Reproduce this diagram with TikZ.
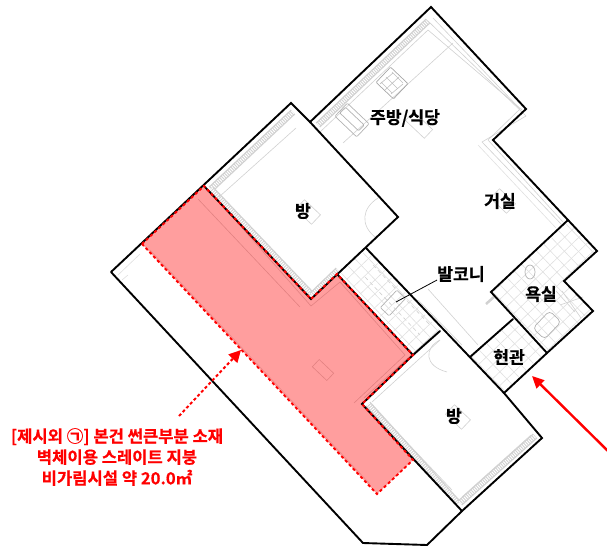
\documentclass[tikz,border=0pt]{standalone}
\usepackage{fontspec}
\setmainfont{Noto Sans CJK KR}[BoldFont={Noto Sans CJK KR Bold},BoldFeatures={FakeBold=0.6}]
\usetikzlibrary{arrows.meta}
\definecolor{planred}{RGB}{255,0,0}
\tikzset{
  x=1pt,y=-1pt,
  wall/.style={black,line width=1.9pt,line join=miter,line cap=round},
  faint/.style={black!18,line width=.6pt},
  fainter/.style={black!12,line width=.6pt},
  hatchband/.style={black!18,line width=6.5pt,line cap=butt,postaction={draw=white,line width=4pt,dash pattern=on 1pt off 1.2pt}},
  redfill/.style={fill=planred,fill opacity=.38,draw=none},
  reddash/.style={planred,line width=1.9pt,dash pattern=on 3pt off 2.6pt},
  roomlabel/.style={font=\bfseries\fontsize{17.2}{19}\selectfont,text=black,inner sep=1pt},
  redlabel/.style={font=\bfseries\fontsize{16.6}{21}\selectfont,text=planred,inner sep=0pt},
  tag/.style={draw=black!18,line width=.6pt,rotate=-43.5,minimum width=22pt,minimum height=13pt,inner sep=0pt},
  fixture/.style={draw=black!30,line width=.7pt,rotate=-43.5,rounded corners=1pt,inner sep=0pt},
}
% grid of lines: start x, y, step, count, half-length
\newcommand{\meshlines}[5]{%
  \foreach \k in {0,...,#4}{%
    \draw[fainter] ({#1+\k*#3*.69-#5*.72},{#2+\k*#3*.72+#5*.69}) -- ({#1+\k*#3*.69+#5*.72},{#2+\k*#3*.72-#5*.69});
    \draw[fainter] ({#1+\k*#3*.72-#5*.69},{#2-\k*#3*.69-#5*.72}) -- ({#1+\k*#3*.72+#5*.69},{#2-\k*#3*.69+#5*.72});
  }}
\begin{document}
\begin{tikzpicture}
\useasboundingbox (0,0) rectangle (607,546);
% ---------- faint floor plan layer
\begin{scope}
  \clip (340,272) -- (366,250) -- (440,331) -- (413,353) -- cycle;
  \meshlines{340}{272}{10}{12}{120}
\end{scope}
\begin{scope}
  \clip (493,292) -- (568,222) -- (595,251) -- (564,281) -- (591,311) -- (547,351) -- cycle;
  \meshlines{493}{292}{10}{13}{130}
\end{scope}
\begin{scope}
  \clip (472,357) -- (513,321) -- (545,353) -- (504,391) -- cycle;
  \meshlines{472}{357}{10}{8}{90}
\end{scope}
% wall hatching
\draw[hatchband] (318,125) -- (428,21);
\draw[hatchband] (293,112) -- (211,189);
\draw[hatchband] (211,189) -- (312,295);
\draw[hatchband] (312,295) -- (338,270);
\draw[hatchband] (368,404) -- (458,503);
\draw[hatchband] (460,503) -- (535,436);
% parallel wall lines
\draw[faint] (320,132) -- (428,30) -- (522,110);
\draw[faint] (428,21) -- (526,116) -- (482,142) -- (563,226);
\draw[faint] (433,18) -- (520,109) -- (488,140) -- (563,222);
\draw[faint] (343,143) -- (453,43);
\draw[fainter] (478,145) -- (556,228);
\draw[faint] (219,197) -- (296,128);
\draw[faint] (372,402) -- (440,340);
\draw[faint] (364,398) -- (430,338);
\draw[faint] (462,497) -- (531,435);
\draw[faint] (376,410) -- (452,490);
\draw[faint] (214,196) -- (311,306) -- (340,282) -- (405,355) -- (354,403);
\draw[faint] (198,199) -- (300,307);
\draw[fainter] (118,275) -- (140,254);
\draw[fainter] (122,280) -- (128,275);
\draw[fainter] (150,250) -- (370,484);
% door arcs
\draw[faint] (378,198) .. controls (362,208) and (360,225) .. (375,237);
\draw[faint] (440,340) .. controls (424,348) and (424,366) .. (447,372);
% kitchen fixtures
\node[fixture,minimum width=30pt,minimum height=18pt] (sink) at (352,120) {};
\node[fixture,minimum width=26pt,minimum height=8pt] (sinkb) at (352,119) {};
\node[fixture,minimum width=24pt,minimum height=21pt,draw=black!35] (stove) at (392,83) {};
\draw[black!25,line width=.6pt] (381,82) -- (392,93) (386,77) -- (397,88) (392,72) -- (403,83)
  (385,90) -- (399,77) (391,94) -- (403,84) (380,84) -- (393,73);
\node[tag,minimum width=26pt,minimum height=12pt] (tkitchen) at (419,125) {};
\node[tag] (troom) at (308,212) {};
\node[tag] (tliving) at (503,201) {};
\node[tag] (tlower) at (458,417) {};
\node[tag,minimum width=20pt,minimum height=10pt] (tpink) at (323,370) {};
% balcony, bath and entry fixtures
\node[fixture,minimum width=12pt,minimum height=24pt,rotate=0] (wash) at (393,303) {};
\draw[faint,dash pattern=on 4pt off 3pt] (373,265) -- (430,325);
\draw[faint,dash pattern=on 4pt off 3pt] (365,277) -- (420,335);
\draw[faint] (428,289) -- (478,345);
\draw[faint] (418,300) -- (462,345);
\draw[faint,line width=2.5pt] (486,304) -- (495,296);
\draw[black!30,line width=.7pt] (530,272) ellipse (5 and 7);
\node[fixture,minimum width=16pt,minimum height=24pt,rounded corners=4pt] (toilet) at (547,325) {};
\draw[faint] (560,305) -- (583,297) (562,291) -- (581,318);
\draw[faint] (556,291) -- (575,312);
% ---------- red area
\fill[redfill] (142,244) -- (204,186) -- (311,299) -- (337,274) -- (413,355) -- (362,404) -- (413,460) -- (377,494) -- cycle;
% ---------- black walls
\draw[wall] (111,272) -- (363,543) -- (427,545) -- (462,511) -- (542,438) -- (504,393) -- (547,353) -- (593,311) -- (564,281) -- (597,251) -- (568,220) -- (493,140) -- (526,109) -- (431,7) -- (310,122) -- (291,103) -- (111,272);
\draw[wall] (310,122) -- (398,217) -- (311,299) -- (204,186);
\draw[wall] (337,274) -- (413,355) -- (362,404) -- (462,511);
\draw[wall] (366,248) -- (504,393);
\draw[wall] (440,331) -- (413,355);
\draw[wall] (470,357) -- (513,319);
\draw[wall] (568,220) -- (491,292) -- (547,353);
% ---------- red dashed outline
\draw[reddash] (142,244) -- (204,186) -- (311,299) -- (337,274) -- (413,355) -- (362,404) -- (413,460) -- (377,494) -- cycle;
% ---------- labels
\node[roomlabel] (kitchen) at (405,118) {주방/식당};
\node[roomlabel] (roomA) at (303,211) {방};
\node[roomlabel] (living) at (500,201) {거실};
\node[roomlabel,fill=white,fill opacity=.8,text opacity=1] (balcony) at (461,274) {발코니};
\node[roomlabel] (bath) at (541,294) {욕실};
\node[roomlabel] (entry) at (509,357) {현관};
\node[roomlabel] (roomB) at (454,416) {방};
\node[redlabel,align=center] (note) at (117,457) {[제시외 ㉠] 본건 썬큰부분 소재\\벽체이용 스레이트 지붕\\비가림시설 약 20.0㎡};
% ---------- connectors
\coordinate (leaderend) at (396,302);
\draw[black,line width=.8pt] (balcony.west) ++(1,6) -- (leaderend);
\coordinate (arrowtail) at (612,455);
\coordinate (arrowtip) at (532,376);
\draw[planred,line width=2.4pt,-{Triangle[length=12pt,width=11pt]}] (arrowtail) -- (arrowtip);
\coordinate (notetail) at (179,416);
\coordinate (notetip) at (241,350);
\draw[planred,line width=2pt,dash pattern=on 3pt off 2.4pt,-{Triangle[length=12pt,width=12pt,sep=0pt]}] (notetail) -- (notetip);
\end{tikzpicture}
\end{document}
